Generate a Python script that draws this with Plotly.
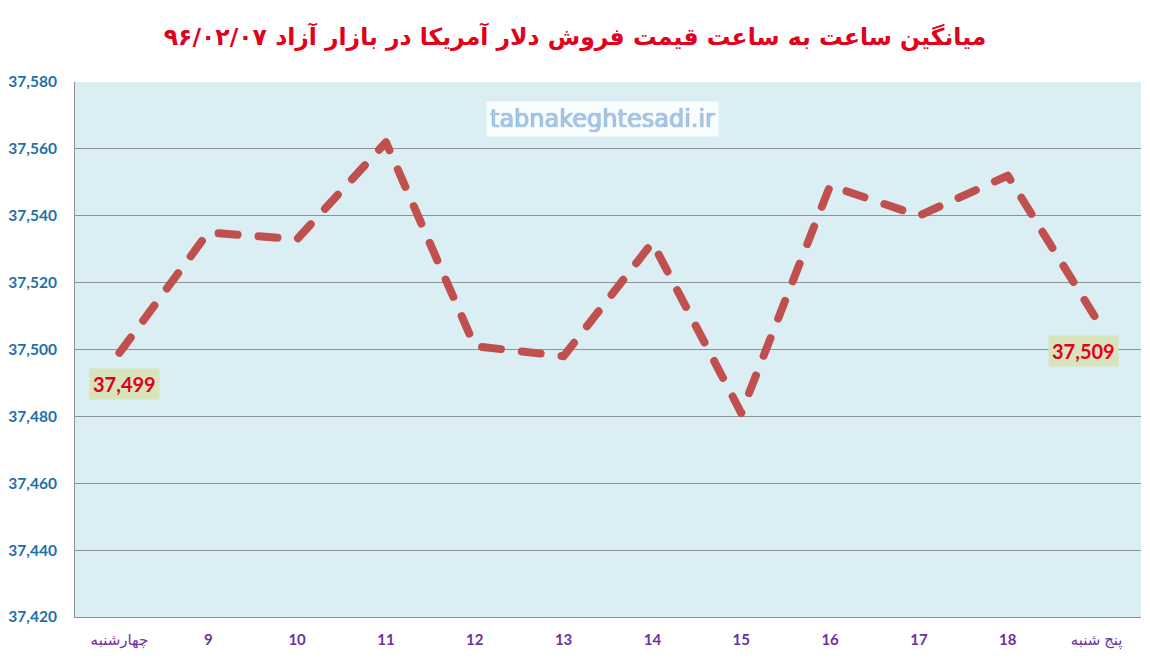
import plotly.graph_objects as go

categories = ["چهارشنبه", "9", "10", "11", "12", "13", "14", "15", "16", "17", "18", "پنج شنبه"]
values = [37499, 37535, 37533, 37562, 37501, 37498, 37532, 37481, 37549, 37540, 37552, 37509]
y_ticks = [37420, 37440, 37460, 37480, 37500, 37520, 37540, 37560, 37580]
title_text = "میانگین ساعت به ساعت قیمت فروش دلار آمریکا در بازار آزاد ۹۶/۰۲/۰۷"
watermark = "tabnakeghtesadi.ir"
labelled = [0, 11]

# numbers bold, Persian day names regular (as in the reference)
tick_text = [c if not c.isdigit() else f"<b>{c}</b>" for c in categories]

fig = go.Figure()
fig.add_trace(go.Scatter(
    x=categories, y=values, mode="lines",
    line=dict(color="#C0504D", width=8, dash="19px,21px"),
    hoverinfo="x+y",
))

label_shifts = {0: (5, -31), 11: (-13, -32)}
for i in labelled:
    dx, dy = label_shifts[i]
    fig.add_annotation(
        x=categories[i], y=values[i], text=f"{values[i]:,}",
        showarrow=False, xshift=dx, yshift=dy,
        font=dict(family="Lato, DejaVu Sans", size=20, color="#E2001A", weight="bold"),
        bgcolor="#D8E4BC", borderpad=3,
    )

fig.add_annotation(
    xref="paper", yref="paper", x=0.495, y=0.93, xanchor="center", yanchor="middle",
    text=watermark, showarrow=False,
    font=dict(family="Verdana, DejaVu Sans", size=24, color="#A9C8EA",
              shadow="0px 0px 1px #3F6FA8"),
    bgcolor="rgba(255,255,255,0.85)", borderpad=3,
)

fig.update_layout(
    width=1150, height=665,
    margin=dict(l=75, r=9, t=82, b=48, autoexpand=False),
    paper_bgcolor="white", plot_bgcolor="#DAEEF3",
    showlegend=False,
    title=dict(text=title_text, x=0.5, xanchor="center", y=0.944, yanchor="middle",
               font=dict(family="DejaVu Sans", size=23.5, color="#E2001A", weight="bold")),
    xaxis=dict(
        type="category", range=[-0.5, len(categories) - 0.5],
        showgrid=False, showline=True, linecolor="#8A9499", linewidth=1,
        ticks="", ticklabelstandoff=9, automargin=False,
        tickvals=categories, ticktext=tick_text,
        tickfont=dict(family="Lato, DejaVu Sans", size=15, color="#7030A0"),
    ),
    yaxis=dict(
        range=[37420, 37580], tickvals=y_ticks, tickformat=",d",
        showgrid=True, gridcolor="#8A9499", gridwidth=1,
        showline=True, linecolor="#8A9499", linewidth=1, zeroline=False,
        ticks="", ticklabelstandoff=14, automargin=False,
        tickfont=dict(family="Lato, DejaVu Sans", size=15.5, color="#1F6FA8", weight="bold"),
    ),
)

post = """
document.body.style.margin='0';
document.querySelectorAll('.scatterlayer .js-line').forEach(function(p){
  p.style.strokeLinecap='round'; p.style.strokeLinejoin='round';
});
"""
fig.write_html("out.html", post_script=post, config={"displayModeBar": False})
